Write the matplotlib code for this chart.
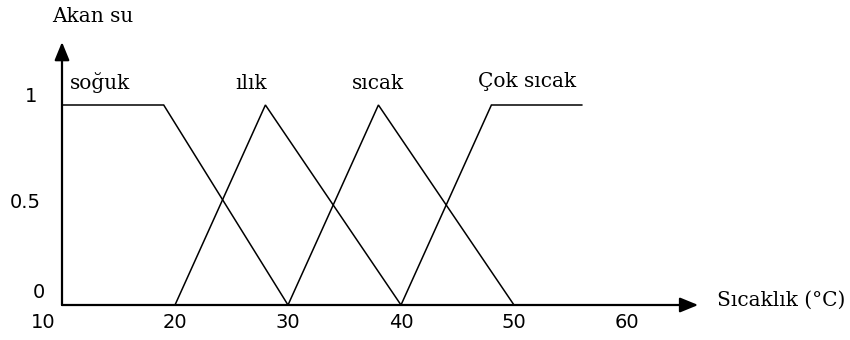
import matplotlib
matplotlib.use("Agg")
import matplotlib.pyplot as plt

# Membership functions for water temperature (Sıcaklık, °C)
sets = ["soğuk", "ılık", "sıcak", "Çok sıcak"]
soguk_x = [10, 19, 30]
soguk_y = [1, 1, 0]
ilik_x = [20, 28, 40]
ilik_y = [0, 1, 0]
sicak_x = [30, 38, 50]
sicak_y = [0, 1, 0]
cok_sicak_x = [40, 48, 56]
cok_sicak_y = [0, 1, 1]

x_ticks = [10, 20, 30, 40, 50, 60]
y_ticks = [0, 0.5, 1]
y_tick_labels = ["0", "0.5", "1"]

y_title = "Akan su"
x_title = "Sıcaklık (°C)"

serif = ["DejaVu Serif"]
sans = ["DejaVu Sans"]

W, H = 850, 340
fig = plt.figure(figsize=(W / 100, H / 100), dpi=100)
ax = fig.add_axes([62 / W, 35 / H, 678 / W, 280 / H])
ax.set_xlim(10, 70)
ax.set_ylim(0, 1.4)
ax.axis("off")

line_kw = dict(color="black", lw=1.1, solid_joinstyle="miter")
ax.plot(soguk_x, soguk_y, **line_kw)
ax.plot(ilik_x, ilik_y, **line_kw)
ax.plot(sicak_x, sicak_y, **line_kw)
ax.plot(cok_sicak_x, cok_sicak_y, **line_kw)

# Axes drawn as arrows
arrow = dict(arrowstyle="-|>,head_length=1.1,head_width=0.45", color="black",
             lw=1.6, shrinkA=0, shrinkB=0)
ax.annotate("", xy=(66.3, 0), xytext=(10, 0), arrowprops=arrow,
            annotation_clip=False)
ax.annotate("", xy=(10, 1.315), xytext=(10, 0), arrowprops=arrow,
            annotation_clip=False)

# Axis titles
ax.text(9.1, 1.44, y_title, family=serif, fontsize=14.5, ha="left",
        va="center", clip_on=False)
ax.text(68.0, 0.025, x_title, family=serif, fontsize=14.5, ha="left",
        va="center", clip_on=False)

# Set names above their curves
name_pos = [(10.7, 1.08, "left"), (26.7, 1.08, "center"),
            (38.0, 1.08, "center"), (51.2, 1.09, "center")]
for name, (nx, ny, ha) in zip(sets, name_pos):
    ax.text(nx, ny, name, family=serif, fontsize=14.5, ha=ha,
            va="baseline", clip_on=False)

# Tick labels
x_offsets = [-19, 0, 0, 0, 0, 0]
for v, dx in zip(x_ticks, x_offsets):
    ax.annotate(str(v), xy=(v, 0), xytext=(dx, -17), textcoords="offset pixels",
                ha="center", va="center", family=sans, fontsize=14,
                annotation_clip=False)

y_offsets = [(-17, 13), (-21, 2), (-25, 9)]
for v, lab, (dx, dy) in zip(y_ticks, y_tick_labels, y_offsets):
    ax.annotate(lab, xy=(10, v), xytext=(dx, dy), textcoords="offset pixels",
                ha="right", va="center", family=sans, fontsize=14,
                annotation_clip=False)

fig.savefig("out.png", dpi=100, facecolor="white")
